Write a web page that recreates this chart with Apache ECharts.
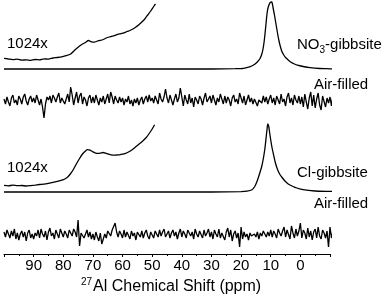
<!DOCTYPE html>
<html>
<head>
<meta charset="utf-8">
<script src="https://cdn.jsdelivr.net/npm/echarts@6/dist/echarts.min.js"></script>
<style>html,body{margin:0;padding:0;background:#fff}#c{width:392px;height:297px}</style>
</head>
<body>
<div id="c"></div>
<script>
// ---- data (chemical shift in ppm, intensity in arbitrary units) ----
const tickLabels = [90, 80, 70, 60, 50, 40, 30, 20, 10, 0];

const no3Ppm = [100, 60, 30, 22, 19.2, 16.9, 15.8, 14.7, 13.6, 13.0, 12.6, 12.2, 11.9, 11.6, 11.3, 11.0, 10.6, 10.2, 9.8, 9.5, 9.2, 8.8, 8.4, 8.0, 7.6, 7.2, 6.8, 6.3, 5.7, 5.0, 4.0, 3.0, 2.0, 1.0, -0.9, -3.3, -6.6, -10, -11.5];
const no3Int = [0, 0, 0, 0.3, 0.7, 2.3, 4, 6.5, 10.5, 15, 20, 28, 36, 45, 54, 60, 64, 66.3, 67, 66, 61, 55, 48, 41, 34, 28, 23, 18, 14.5, 11.5, 8.8, 6.5, 5, 3.8, 2.5, 1.3, 0.5, 0.2, 0];

const no3InsetPpm = [100, 98.5, 97, 95.5, 94, 92.5, 91, 89.5, 88, 86.5, 85, 83.5, 82, 80.5, 79, 77.5, 76.5, 75.5, 74.5, 73.5, 72.5, 71.5, 70.5, 69.5, 68.5, 67.5, 66.5, 65.5, 64.5, 63.5, 62.5, 61.5, 60.5, 59.5, 58.5, 57.5, 56.5, 55.5, 54.5, 53.5, 52.5, 51.5, 50.5, 49.5, 48.9];
const no3InsetInt = [10.7, 10, 9.4, 9.8, 8.8, 9.2, 8.6, 9.5, 9.2, 10.2, 9.8, 11, 11.5, 12.2, 13.3, 15, 17.8, 20.5, 23, 25, 26.5, 28.5, 27.2, 26.8, 28, 28.6, 29.5, 31, 32, 32.8, 33.6, 34.8, 35.4, 36.2, 37.5, 38.5, 40, 42, 44.3, 47, 50, 54, 58, 62.5, 65];

const clPpm = [100, 60, 30, 20, 18, 16.3, 15.5, 14.7, 13.9, 13.0, 12.4, 11.9, 11.5, 11.2, 11.0, 10.7, 10.4, 10.0, 9.6, 9.1, 8.5, 8.0, 7.5, 6.9, 6.3, 5.2, 4.3, 3.5, 2.5, 1.2, -0.9, -4.9, -10, -11.5];
const clInt = [0, 0, 0, 0.3, 0.8, 2.3, 5, 10, 17, 26, 35, 45, 56, 64, 68, 66, 60, 52, 45, 38, 30, 25, 21, 17.5, 15, 11, 8.5, 7, 5.5, 4, 2.3, 1, 0.6, 0.5];

const clInsetPpm = [100, 98.5, 97, 95.5, 94, 92.5, 91, 89.5, 88, 86.5, 85, 83.5, 82, 80.5, 79.5, 78.5, 77.5, 76.5, 75.5, 74.5, 73.5, 72.5, 71.8, 71, 70.2, 69.3, 68.4, 67.5, 66.6, 65.7, 64.8, 63.9, 62.9, 62, 61, 60, 59, 58, 57, 56, 55, 54, 53, 52, 51, 50, 49.2];
const clInsetInt = [6.6, 6.2, 6.8, 6.3, 6.5, 6, 6.4, 6.9, 7.5, 7.8, 8.6, 9.6, 10.6, 11.8, 13, 15, 18.5, 23, 28.5, 33.5, 38, 41, 42.3, 41.8, 40.5, 39.2, 38.6, 38.8, 39.5, 38.8, 37.8, 37.2, 36.8, 37, 37.2, 37.8, 38.7, 40, 41.8, 44, 46.5, 49, 51.5, 54.5, 58.5, 63, 67.3];

const noisePpm = [
100,99.5,99,98.5,98,97.5,97,96.5,96,95.5,95,94.5,94,93.5,93,92.5,92,91.5,91,90.5,
90,89.5,89,88.5,88,87.5,87,86.5,86,85.5,85,84.5,84,83.5,83,82.5,82,81.5,81,80.5,
80,79.5,79,78.5,78,77.5,77,76.5,76,75.5,75,74.5,74,73.5,73,72.5,72,71.5,71,70.5,
70,69.5,69,68.5,68,67.5,67,66.5,66,65.5,65,64.5,64,63.5,63,62.5,62,61.5,61,60.5,
60,59.5,59,58.5,58,57.5,57,56.5,56,55.5,55,54.5,54,53.5,53,52.5,52,51.5,51,50.5,
50,49.5,49,48.5,48,47.5,47,46.5,46,45.5,45,44.5,44,43.5,43,42.5,42,41.5,41,40.5,
40,39.5,39,38.5,38,37.5,37,36.5,36,35.5,35,34.5,34,33.5,33,32.5,32,31.5,31,30.5,
30,29.5,29,28.5,28,27.5,27,26.5,26,25.5,25,24.5,24,23.5,23,22.5,22,21.5,21,20.5,
20,19.5,19,18.5,18,17.5,17,16.5,16,15.5,15,14.5,14,13.5,13,12.5,12,11.5,11,10.5,
10,9.5,9,8.5,8,7.5,7,6.5,6,5.5,5,4.5,4,3.5,3,2.5,2,1.5,1,0.5,
0,-0.5,-1,-1.5,-2,-2.5,-3,-3.5,-4,-4.5,-5,-5.5,-6,-6.5,-7,-7.5,-8,-8.5,-9,-9.5,
-10,-10.5,-11,-11.5];

const air1Int = [
2,-3,4,-1,-5,3,6,-2,1,-4,5,2,-3,4,7,0,-4,2,5,-1,
3,-2,6,1,-4,2,-6,-17,-3,4,1,5,-2,6,3,-1,4,8,-2,3,
5,-3,2,7,-1,14,6,-4,3,9,-2,5,8,-3,4,1,-5,3,6,-2,
4,-2,6,1,-4,3,-1,5,-3,2,7,-2,9,4,-3,5,1,-2,4,-1,
3,-4,2,-1,5,-3,1,-5,2,-2,3,-4,1,4,-3,2,5,-1,6,0,
3,-2,5,1,-3,8,2,-1,4,12,3,-2,6,1,-4,2,7,-1,3,13,
4,-5,6,1,-3,7,-2,3,-6,4,1,-3,5,2,-4,3,8,-1,2,5,
-2,6,1,-4,3,-1,7,2,-3,5,-2,4,1,-5,3,6,-1,2,-3,8,
3,-2,5,-4,1,6,-1,3,-3,2,4,-5,1,3,-2,5,-1,4,-3,2,
6,-2,3,-4,5,1,-3,7,-1,2,-5,4,8,-2,3,-4,6,1,-2,5,
-3,4,-6,7,-1,-8,3,9,-5,6,-7,2,8,-4,-9,5,7,-6,3,-2,
4,-5,6,-2];

const air2Int = [
3,-2,5,1,-3,4,-1,6,-4,2,-5,1,4,-2,3,-6,2,5,-3,1,
-4,2,-1,5,-3,6,1,-2,4,-5,3,7,-1,2,-4,5,1,-3,6,2,
-2,4,1,-3,5,2,-1,6,3,-2,15,-11,2,4,-3,1,5,-2,3,-4,
1,-5,3,-2,-6,2,-9,-4,1,-3,4,2,-1,5,6,12,3,-2,4,1,
-3,5,-2,3,1,-4,4,-1,2,-5,3,1,-2,4,-3,2,5,-1,-4,3,
1,-3,4,2,-2,5,-1,3,6,-2,1,4,-3,2,5,-1,3,-4,2,6,
-2,4,1,-3,5,2,-1,3,-4,6,1,-2,4,3,-3,5,-1,2,6,-2,
3,-4,5,1,-2,6,-3,2,4,-5,3,7,-2,5,-6,1,4,-3,2,-12,
8,-4,3,-2,1,-5,2,-1,-3,1,-2,3,-4,2,-1,4,1,-2,3,-1,
5,-2,4,1,-3,6,2,-1,4,8,-2,5,3,-4,9,2,-3,6,-1,4,
12,-3,5,2,-4,7,-2,4,-5,3,6,-3,8,-1,-4,5,2,-3,4,-12,
8,-3,4,1];

// ---- chart ----
const FONT = '"Liberation Sans", Arial, Helvetica, sans-serif';
const offs = { no3: 185, air1: 153, cl: 62, air2: 19 };
function pairs(xs, ys, off) { return xs.map((x, i) => [x, ys[i] + off]); }
function line(data, smooth) {
  return { type: 'line', data: data, showSymbol: false, symbol: 'none', smooth: smooth || false,
    clip: false, lineStyle: { color: '#000', width: 1.3 }, silent: true, animation: false };
}

const chart = echarts.init(document.getElementById('c'), null, { renderer: 'canvas' });
chart.setOption({
  animation: false,
  grid: { left: 4, right: 62, top: 0, bottom: 43 },
  xAxis: {
    type: 'value', inverse: true, min: -10, max: 100, interval: 10,
    splitLine: { show: false },
    axisLine: { onZero: false, lineStyle: { color: '#000', width: 1.2 } },
    axisTick: { show: true, length: 3, lineStyle: { color: '#000', width: 1 } },
    minorTick: { show: true, splitNumber: 2, length: 2, lineStyle: { color: '#000', width: 1 } },
    axisLabel: { color: '#000', fontSize: 15, fontFamily: FONT, margin: 4,
      formatter: v => tickLabels.indexOf(v) >= 0 ? String(v) : '' }
  },
  yAxis: { type: 'value', min: 0, max: 254, show: false },
  series: [
    line(pairs(no3Ppm, no3Int, offs.no3), 0.2),
    line(pairs(no3InsetPpm, no3InsetInt, offs.no3), 0.2),
    line(pairs(noisePpm, air1Int, offs.air1)),
    line(pairs(clPpm, clInt, offs.cl), 0.2),
    line(pairs(clInsetPpm, clInsetInt, offs.cl), 0.2),
    line(pairs(noisePpm, air2Int, offs.air2))
  ],
  graphic: [
    { type: 'text', left: 7, top: 36, style: { text: '1024x', fontSize: 15, fontFamily: FONT, fill: '#000' } },
    { type: 'text', left: 7, top: 160, style: { text: '1024x', fontSize: 15, fontFamily: FONT, fill: '#000' } },
    { type: 'text', left: 297, top: 37, style: { text: '{n|NO}{s|3}{n|-gibbsite}', fill: '#000',
      rich: { n: { fontSize: 15, fontFamily: FONT, lineHeight: 17, verticalAlign: 'bottom' },
              s: { fontSize: 10, fontFamily: FONT, lineHeight: 10, verticalAlign: 'bottom', padding: [0, 0, -3, 0] } } } },
    { type: 'text', left: 314, top: 77, style: { text: 'Air-filled', fontSize: 15, fontFamily: FONT, fill: '#000' } },
    { type: 'text', left: 297, top: 165, style: { text: 'Cl-gibbsite', fontSize: 15, fontFamily: FONT, fill: '#000' } },
    { type: 'text', left: 314, top: 196, style: { text: 'Air-filled', fontSize: 15, fontFamily: FONT, fill: '#000' } },
    { type: 'text', left: 81, top: 277, style: { text: '{s|27}{n|Al Chemical Shift (ppm)}', fill: '#000',
      rich: { n: { fontSize: 16, fontFamily: FONT, lineHeight: 18, verticalAlign: 'bottom' },
              s: { fontSize: 10, fontFamily: FONT, lineHeight: 10, verticalAlign: 'top', padding: [0, 1, 6, 0] } } } }
  ]
});
</script>
</body>
</html>
